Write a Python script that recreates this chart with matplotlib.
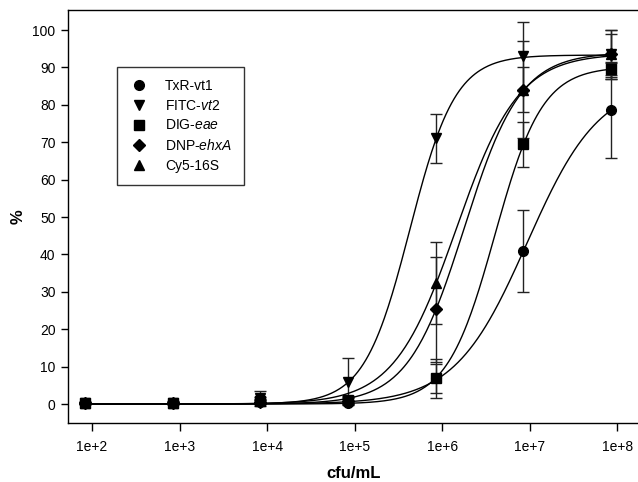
import numpy as np
import matplotlib
matplotlib.use("Agg")
import matplotlib.pyplot as plt

plt.rcParams['font.family'] = ['Liberation Sans', 'DejaVu Sans']
plt.rcParams['mathtext.fontset'] = 'custom'
plt.rcParams['mathtext.rm'] = 'Liberation Sans'
plt.rcParams['mathtext.it'] = 'Liberation Sans:italic'

# ---- data ----
cfu = [84, 840, 8400, 84000, 840000, 8400000, 84000000]
tick_vals = [1e2, 1e3, 1e4, 1e5, 1e6, 1e7, 1e8]
tick_labels = ['1e+2', '1e+3', '1e+4', '1e+5', '1e+6', '1e+7', '1e+8']
y_ticks = [0, 10, 20, 30, 40, 50, 60, 70, 80, 90, 100]

labels = ['TxR-vt1', r'FITC-$\mathit{vt2}$', r'DIG-$\mathit{eae}$',
          r'DNP-$\mathit{ehxA}$', 'Cy5-16S']
markers = ['o', 'v', 's', 'D', '^']
msizes = [7, 7, 7, 6.5, 7]

txr = [0.2, 0.3, 0.5, 0.4, 6.9, 41.0, 78.5]
fitc = [0.2, 0.4, 1.5, 6.0, 71.0, 93.0, 93.5]
dig = [0.2, 0.3, 0.8, 1.0, 6.9, 69.5, 89.5]
dnp = [0.2, 0.3, 0.6, 0.8, 25.3, 84.0, 93.5]
cy5 = [0.2, 0.3, 1.0, 1.2, 32.3, 84.0, 93.5]

txr_err = [0.3, 0.3, 0.5, 0.5, 3.9, 11.0, 12.8]
fitc_err = [0.3, 0.4, 2.0, 6.2, 6.5, 9.2, 6.5]
dig_err = [0.3, 0.3, 0.6, 0.8, 5.2, 6.0, 2.0]
dnp_err = [0.3, 0.3, 0.6, 0.8, 14.0, 13.0, 5.5]
cy5_err = [0.3, 0.3, 0.8, 1.0, 11.0, 6.0, 6.5]

# fitted sigmoid parameters (top, log10 EC50, hill slope)
fit_top = [86.3, 93.3, 90.2, 94.0, 93.7]
fit_logec50 = [6.97, 5.63, 6.60, 6.25, 6.16]
fit_hill = [1.05, 1.67, 1.60, 1.35, 1.22]

series = [txr, fitc, dig, dnp, cy5]
errors = [txr_err, fitc_err, dig_err, dnp_err, cy5_err]
marker_order = [0, 1, 4, 2, 3]

fig = plt.figure(figsize=(6.38, 4.82), dpi=100)
ax = fig.add_axes([68/638, 59/482, 1 - 68/638 + 0.002, 413/482])

xs = np.logspace(np.log10(cfu[0]), np.log10(cfu[-1]), 400)
for i in range(len(series)):
    ax.errorbar(cfu, series[i], yerr=errors[i], fmt='none', ecolor='#222222',
                elinewidth=1.0, capsize=4.5, capthick=1.0, zorder=2)
for i in range(len(series)):
    lx = np.log10(xs)
    yfit = fit_top[i] / (1 + 10 ** ((fit_logec50[i] - lx) * fit_hill[i]))
    ax.plot(xs, yfit, color='black', lw=1.0, zorder=3)
handles = {}
for k, i in enumerate(marker_order):
    h, = ax.plot(cfu, series[i], linestyle='none', marker=markers[i], ms=msizes[i],
                 color='black', zorder=4 + k * 0.1)
    handles[i] = h

ax.set_xscale('log')
ax.set_xlim(10 ** 1.726, 10 ** 8.25)
ax.set_ylim(-5.08, 105.35)
ax.set_xticks(tick_vals)
ax.set_xticklabels(tick_labels)
ax.minorticks_off()
ax.set_yticks(y_ticks)
ax.tick_params(axis='both', direction='out', labelsize=10, color='black', width=1)
ax.tick_params(axis='x', length=6, pad=6)
ax.tick_params(axis='y', length=5, pad=4)
ax.spines['right'].set_visible(False)
for s in ['left', 'bottom', 'top']:
    ax.spines[s].set_linewidth(1.0)

ax.set_xlabel('cfu/mL', fontsize=12, fontweight='bold', labelpad=9)
ax.set_ylabel('%', fontsize=12, fontweight='bold', labelpad=5)

leg = ax.legend([handles[i] for i in range(5)], labels,
                loc='upper left', bbox_to_anchor=((117-68)/570, (423-67)/413),
                frameon=True, fancybox=False, edgecolor='black', fontsize=10,
                handlelength=1.5, handletextpad=1.1, labelspacing=0.42,
                borderpad=0.85, borderaxespad=0)
leg.get_frame().set_linewidth(1.0)

fig.savefig('out.png', dpi=100)
